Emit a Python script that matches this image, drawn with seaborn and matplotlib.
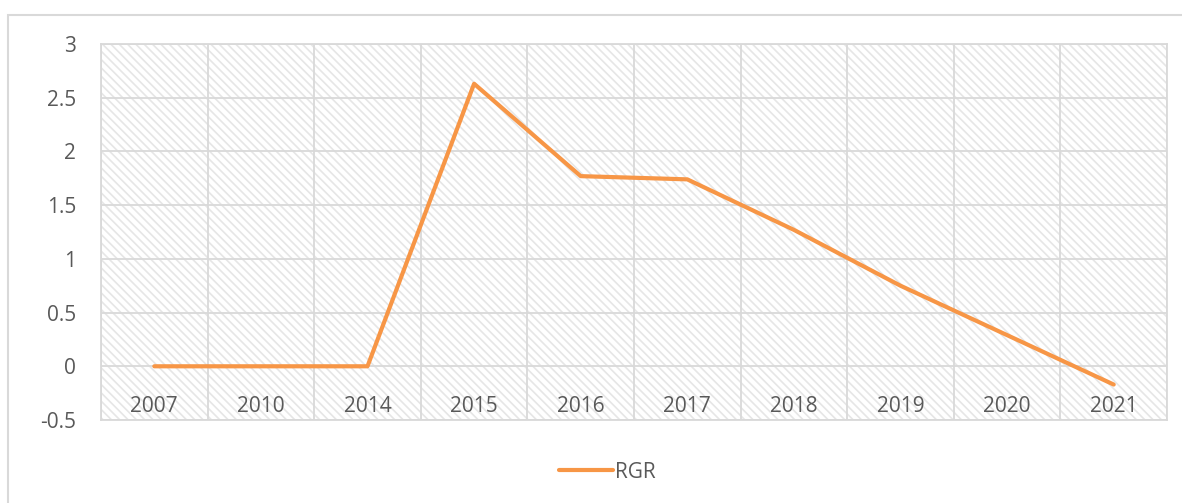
import numpy as np
import pandas as pd
import matplotlib
matplotlib.use("Agg")
import matplotlib.pyplot as plt
from matplotlib.patches import Rectangle
import seaborn as sns

years = ["2007", "2010", "2014", "2015", "2016", "2017", "2018", "2019", "2020", "2021"]
rgr = [0.0, 0.0, 0.0, 2.63, 1.77, 1.74, 1.27, 0.75, 0.29, -0.17]
y_ticks = [-0.5, 0, 0.5, 1, 1.5, 2, 2.5, 3]
y_labels = ["-0.5", "0", "0.5", "1", "1.5", "2", "2.5", "3"]

sns.set_style("white")
plt.rcParams["font.family"] = ["Open Sans", "DejaVu Sans"]
plt.rcParams["hatch.linewidth"] = 1.2
plt.rcParams["hatch.color"] = "#e6e6e6"

grid_c = "#d9d9d9"
text_c = "#595959"
line_c = "#f79646"

df = pd.DataFrame({"pos": np.arange(len(years)), "RGR": rgr, "series": "RGR"})

fig = plt.figure(figsize=(11.82, 5.03), dpi=100)
ax = fig.add_axes([101 / 1182, 1 - 420 / 503, 1066 / 1182, 376 / 503])

# outer chart frame
fig.patches.append(Rectangle((8 / 1182, -0.05), 1.2, 1 - 15 / 503 + 0.05,
                             transform=fig.transFigure, fill=False,
                             edgecolor=grid_c, linewidth=1.5, zorder=0))

# hatched plot area
ax.add_patch(Rectangle((-0.5, -0.5), len(years), 3.5, facecolor="white",
                       hatch="\\\\\\\\", edgecolor="#e6e6e6", linewidth=0, zorder=0))

sns.lineplot(data=df, x="pos", y="RGR", color=line_c, linewidth=3,
             ax=ax, label="RGR", legend=False, zorder=3)

ax.set_xlim(-0.5, len(years) - 0.5)
ax.set_ylim(-0.5, 3)
ax.set_xticks(np.arange(len(years)))
ax.set_xticklabels(years)
ax.set_xticks(np.arange(len(years) + 1) - 0.5, minor=True)
ax.set_yticks(y_ticks)
ax.set_yticklabels(y_labels)
ax.grid(True, which="minor", axis="x", color=grid_c, linewidth=1.3, zorder=1)
ax.grid(True, which="major", axis="y", color=grid_c, linewidth=1.3, zorder=1)
ax.set_axisbelow(False)
ax.tick_params(axis="x", which="both", length=0, pad=-17, labelsize=15, labelcolor=text_c)
ax.tick_params(axis="y", length=0, pad=18, labelsize=15, labelcolor=text_c)
for s in ax.spines.values():
    s.set_color(grid_c)
    s.set_linewidth(1.3)
ax.set_xlabel("")
ax.set_ylabel("")

handles = [plt.Line2D([], [], color=line_c, linewidth=3, solid_capstyle="round")]
fig.legend(handles, ["RGR"], loc="center", bbox_to_anchor=(0.514, 1 - 472 / 503),
           frameon=False, fontsize=15, labelcolor=text_c, handlelength=2.6,
           handletextpad=0.1)

fig.savefig("out.png", dpi=100)
